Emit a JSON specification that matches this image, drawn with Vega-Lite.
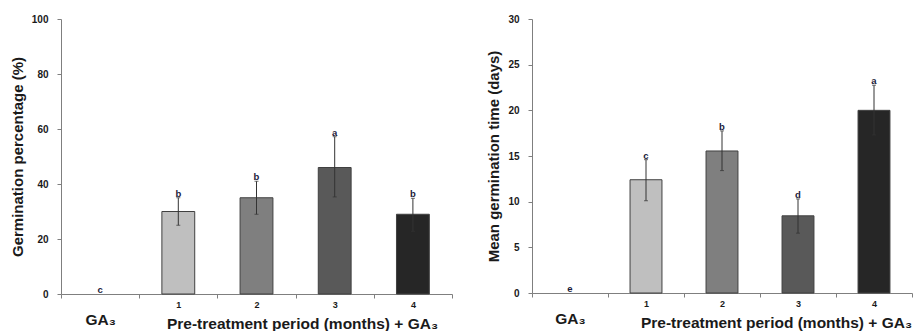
{
  "$schema": "https://vega.github.io/schema/vega-lite/v6.json",
  "background": "white",
  "padding": {"left": 10, "top": 14, "right": 5, "bottom": 0},
  "spacing": 33,
  "config": {
    "view": {"stroke": null},
    "font": "Liberation Sans",
    "axis": {
      "domainColor": "#7f7f7f",
      "tickColor": "#7f7f7f",
      "tickSize": 4,
      "labelFont": "Liberation Sans",
      "labelFontWeight": "bold",
      "labelColor": "#1a1a1a",
      "titleFont": "Liberation Sans",
      "titleFontWeight": "bold",
      "titleColor": "#1a1a1a",
      "grid": false
    }
  },
  "datasets": {
    "gp": [
      {"cat": "GA3", "value": null, "lo": null, "hi": null, "letter": "c", "lpos": 0},
      {"cat": "1", "value": 30, "lo": 25, "hi": 35, "letter": "b", "lpos": 35},
      {"cat": "2", "value": 35, "lo": 29, "hi": 41, "letter": "b", "lpos": 41},
      {"cat": "3", "value": 46, "lo": 35.3, "hi": 57.2, "letter": "a", "lpos": 57.2},
      {"cat": "4", "value": 29, "lo": 22.8, "hi": 34.8, "letter": "b", "lpos": 34.8}
    ],
    "mgt": [
      {"cat": "GA3", "value": null, "lo": null, "hi": null, "letter": "e", "lpos": 0},
      {"cat": "1", "value": 12.4, "lo": 10.1, "hi": 14.6, "letter": "c", "lpos": 14.6},
      {"cat": "2", "value": 15.55, "lo": 13.4, "hi": 17.75, "letter": "b", "lpos": 17.75},
      {"cat": "3", "value": 8.45, "lo": 6.55, "hi": 10.3, "letter": "d", "lpos": 10.3},
      {"cat": "4", "value": 20.0, "lo": 17.3, "hi": 22.75, "letter": "a", "lpos": 22.75}
    ]
  },
  "hconcat": [
    {
      "width": 391,
      "height": 275,
      "data": {"name": "gp"},
      "encoding": {
        "x": {
          "field": "cat", "type": "nominal", "sort": ["GA3", "1", "2", "3", "4"],
          "scale": {"paddingInner": 0, "paddingOuter": 0},
          "axis": {
            "labelAngle": 0,
            "tickBand": "extent",
            "labelExpr": "datum.value == 'GA3' ? 'GA₃' : datum.value",
            "labelFontSize": {"condition": {"test": "datum.value == 'GA3'", "value": 15.5}, "value": 9},
            "labelPadding": {"condition": {"test": "datum.value == 'GA3'", "value": 14}, "value": 2},
            "title": "Pre-treatment period (months) + GA₃",
            "titleFontSize": 15.5,
            "titleX": 241,
            "titleY": 34,
            "titleAlign": "center",
            "titleBaseline": "alphabetic"
          }
        }
      },
      "layer": [
        {
          "mark": {"type": "bar", "width": {"band": 0.42}, "stroke": "#404040", "strokeWidth": 1},
          "encoding": {
            "y": {"field": "value", "type": "quantitative", "scale": {"domain": [0, 100]},
              "axis": {"values": [0, 20, 40, 60, 80, 100], "labelFontSize": 10, "labelPadding": 9, "title": "Germination percentage (%)", "titleFontSize": 15, "titlePadding": 6}},
            "color": {"field": "cat", "type": "nominal", "legend": null,
              "scale": {"domain": ["GA3", "1", "2", "3", "4"], "range": ["#ffffff", "#bfbfbf", "#7f7f7f", "#595959", "#262626"]}}
          }
        },
        {
          "mark": {"type": "rule", "color": "#333333", "strokeWidth": 1},
          "encoding": {"y": {"field": "lo", "type": "quantitative"}, "y2": {"field": "hi"}}
        },
        {
          "mark": {"type": "tick", "color": "#333333", "size": 4, "thickness": 1, "orient": "horizontal"},
          "encoding": {"y": {"field": "lo", "type": "quantitative"}}
        },
        {
          "mark": {"type": "tick", "color": "#333333", "size": 4, "thickness": 1, "orient": "horizontal"},
          "encoding": {"y": {"field": "hi", "type": "quantitative"}}
        },
        {
          "mark": {"type": "text", "fontSize": 9.5, "fontWeight": "bold", "color": "#1a1a3a", "baseline": "bottom", "dy": 1},
          "encoding": {"y": {"field": "lpos", "type": "quantitative"}, "text": {"field": "letter"}}
        }
      ]
    },
    {
      "width": 380,
      "height": 274,
      "data": {"name": "mgt"},
      "encoding": {
        "x": {
          "field": "cat", "type": "nominal", "sort": ["GA3", "1", "2", "3", "4"],
          "scale": {"paddingInner": 0, "paddingOuter": 0},
          "axis": {
            "labelAngle": 0,
            "tickBand": "extent",
            "labelExpr": "datum.value == 'GA3' ? 'GA₃' : datum.value",
            "labelFontSize": {"condition": {"test": "datum.value == 'GA3'", "value": 15.5}, "value": 9},
            "labelPadding": {"condition": {"test": "datum.value == 'GA3'", "value": 14}, "value": 2},
            "title": "Pre-treatment period (months) + GA₃",
            "titleFontSize": 15.5,
            "titleX": 244,
            "titleY": 34,
            "titleAlign": "center",
            "titleBaseline": "alphabetic"
          }
        }
      },
      "layer": [
        {
          "mark": {"type": "bar", "width": {"band": 0.42}, "stroke": "#404040", "strokeWidth": 1},
          "encoding": {
            "y": {"field": "value", "type": "quantitative", "scale": {"domain": [0, 30]},
              "axis": {"values": [0, 5, 10, 15, 20, 25, 30], "labelFontSize": 10, "labelPadding": 9, "title": "Mean germination time (days)", "titleFontSize": 15, "titlePadding": 6}},
            "color": {"field": "cat", "type": "nominal", "legend": null,
              "scale": {"domain": ["GA3", "1", "2", "3", "4"], "range": ["#ffffff", "#bfbfbf", "#7f7f7f", "#595959", "#262626"]}}
          }
        },
        {
          "mark": {"type": "rule", "color": "#333333", "strokeWidth": 1},
          "encoding": {"y": {"field": "lo", "type": "quantitative"}, "y2": {"field": "hi"}}
        },
        {
          "mark": {"type": "tick", "color": "#333333", "size": 4, "thickness": 1, "orient": "horizontal"},
          "encoding": {"y": {"field": "lo", "type": "quantitative"}}
        },
        {
          "mark": {"type": "tick", "color": "#333333", "size": 4, "thickness": 1, "orient": "horizontal"},
          "encoding": {"y": {"field": "hi", "type": "quantitative"}}
        },
        {
          "mark": {"type": "text", "fontSize": 9.5, "fontWeight": "bold", "color": "#1a1a3a", "baseline": "bottom", "dy": 1},
          "encoding": {"y": {"field": "lpos", "type": "quantitative"}, "text": {"field": "letter"}}
        }
      ]
    }
  ]
}
